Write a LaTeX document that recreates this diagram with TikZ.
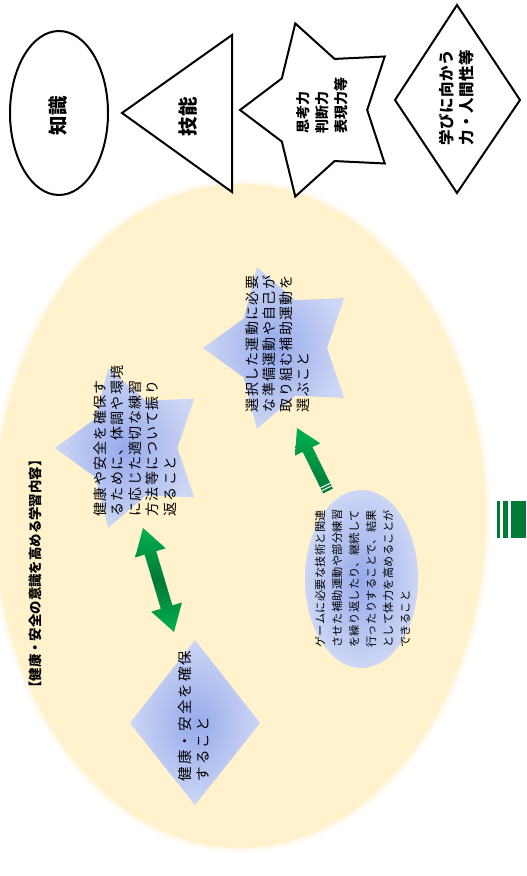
\documentclass[tikz,border=0pt]{standalone}
\usepackage{fontspec}
\newfontfamily\jp{Noto Sans CJK JP}
\definecolor{bgyellow}{RGB}{255,242,204}
\definecolor{blueIn}{RGB}{150,170,235}
\definecolor{blueOut}{RGB}{205,214,245}
\definecolor{grLight}{RGB}{0,176,80}
\definecolor{grDark}{RGB}{0,122,55}
\newcommand\jpfont[3]{\jp\addfontfeature{LetterSpace=#3}\fontsize{#1}{#2}\selectfont}
\begin{document}
\begin{tikzpicture}[x=0.5pt,y=-0.5pt,
  txt/.style={inner sep=0pt, rotate=90, align=left},
  outline/.style={draw=black, line width=1pt, fill=white},
  blueshape/.style={inner color=blueIn, outer color=blueOut}]
\fill[white] (0,0) rectangle (526,876);
\useasboundingbox (0,0) rectangle (526,876);

% big yellow ellipse
\fill[bgyellow, opacity=0.35] (240,516) ellipse [x radius=125pt, y radius=168pt];
\fill[bgyellow] (240,516) ellipse [x radius=123pt, y radius=166pt];

% top row of outlined shapes
\draw[outline] (59,113) ellipse [x radius=24.5pt, y radius=41pt];
\draw[outline] (122,113) -- (232,35) -- (232,192) -- cycle;
\draw[outline] plot[samples at={0,...,9}, variable=\k]
  ({320-ifthenelse(mod(\k,2)==0,1,0.59)*80*cos(36*\k)},{110+ifthenelse(mod(\k,2)==0,1,0.59)*91*sin(36*\k)}) -- cycle;
\draw[outline] (457,5) -- (520,100) -- (457,193) -- (395,100) -- cycle;

% blue shapes
\shade[blueshape] plot[samples at={0,...,9}, variable=\k]
  ({132-ifthenelse(mod(\k,2)==0,1,0.59)*77*cos(36*\k)},{448+ifthenelse(mod(\k,2)==0,1,0.59)*84*sin(36*\k)}) -- cycle;
\shade[blueshape] plot[samples at={0,...,9}, variable=\k]
  ({281-ifthenelse(mod(\k,2)==0,1,0.59)*78*cos(36*\k)},{348+ifthenelse(mod(\k,2)==0,1,0.59)*85*sin(36*\k)}) -- cycle;
\shade[blueshape] (361.5,579) ellipse [x radius=28.25pt, y radius=44.5pt];
\shade[blueshape] (195,640) -- (260,723) -- (195,805) -- (130,723) -- cycle;

% green double arrow
\shade[top color=grLight, bottom color=grLight, middle color=grDark]
  (143,528) -- (165.7,548.3) -- (156.2,551.2) -- (172.4,605.4) -- (181.9,602.5) -- (174,632)
  -- (151.3,611.7) -- (160.8,608.8) -- (144.6,554.6) -- (135.1,557.5) -- cycle;

% green striped arrow
\shade[top color=grLight, bottom color=grDark]
  (297,428) -- (320.2,443.3) -- (312.5,447.1) -- (332.9,488.6) -- (323.1,493.4)
  -- (302.7,451.9) -- (295.0,455.7) -- cycle;
\draw[white, line width=0.5pt] (331.6,485.9) -- (321.8,490.7);
\draw[white, line width=0.5pt] (330.3,483.2) -- (320.4,488.0);

% green bars at right edge
\fill[grDark] (497,501) rectangle (500,538);
\fill[grDark] (503,501) rectangle (508,538);
\fill[grDark] (511,501) rectangle (526,538);

% texts
\node[txt, font={\jpfont{9.75}{12}{0}\bfseries}] (chishiki) at (58,116) {知識};
\node[txt, font={\jpfont{9.75}{12}{0}\bfseries}] (gino) at (188,117) {技能};
\node[txt, font={\jpfont{7}{9.5}{0}\bfseries}] (shiko) at (322,105.5) {思考力\\判断力\\表現力等};
\node[txt, font={\jpfont{7.75}{10}{3}\bfseries}] (manabi) at (457,97.5) {学びに向かう\\力・人間性等};
\node[txt, font={\jpfont{6.7}{9}{0}\bfseries}] (title) at (35,574) {【健康・安全の意識を高める学習内容】};
\node[txt, font={\jpfont{7}{8.75}{9}}] (star1txt) at (135,441)
  {健康や安全を確保す\\るために、体調や環境\\に応じた適切な練習\\方法等について振り\\返ること};
\node[txt, font={\jpfont{7}{8.5}{9}}] (star2txt) at (277.5,344)
  {選択した運動に必要\\な準備運動や自己が\\取り組む補助運動を\\選ぶこと};
\node[txt, font={\jpfont{5.6}{8.5}{3}}] (elltxt) at (362.5,578.5)
  {ゲームに必要な技術と関連\\させた補助運動や部分練習\\を繰り返したり、継続して\\行ったりすることで、結果\\として体力を高めることが\\できること};
\node[txt, font={\jpfont{7.25}{9}{14}}] (diatxt) at (194,716)
  {健康・安全を確保\\すること};
\end{tikzpicture}
\end{document}
